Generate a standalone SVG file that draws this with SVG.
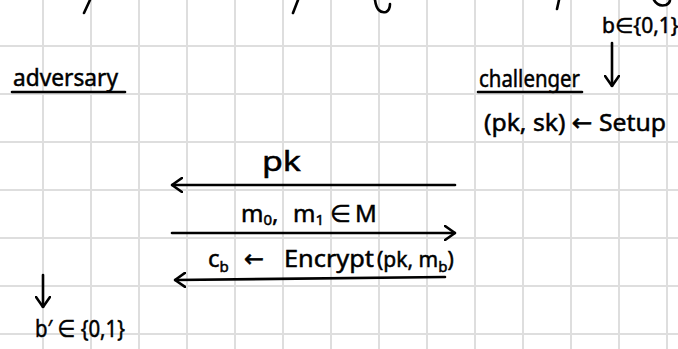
<svg xmlns="http://www.w3.org/2000/svg" width="678" height="349" viewBox="0 0 678 349">
<defs>
<style>
.grid line{stroke:#dedede;stroke-width:2}
.t{font-family:"Noto Sans","DejaVu Sans",sans-serif;font-size:24px;fill:#000;stroke:#000;stroke-width:0.5}
.s{font-size:15px}
.ln{stroke:#000;stroke-width:2.6;fill:none;stroke-linecap:round;stroke-linejoin:round}
</style>
<marker id="hd" viewBox="0 0 12 16" refX="11" refY="8" markerWidth="12" markerHeight="16" markerUnits="userSpaceOnUse" orient="auto">
<path d="M1,1 L11,8 L1,15" fill="none" stroke="#000" stroke-width="2.6" stroke-linecap="round" stroke-linejoin="round"/>
</marker>
</defs>
<rect width="678" height="349" fill="#fff"/>
<g class="grid">
<line x1="43" y1="0" x2="43" y2="349"/><line x1="91" y1="0" x2="91" y2="349"/><line x1="139" y1="0" x2="139" y2="349"/><line x1="187" y1="0" x2="187" y2="349"/><line x1="235" y1="0" x2="235" y2="349"/><line x1="283" y1="0" x2="283" y2="349"/><line x1="331" y1="0" x2="331" y2="349"/><line x1="379" y1="0" x2="379" y2="349"/><line x1="427" y1="0" x2="427" y2="349"/><line x1="475" y1="0" x2="475" y2="349"/><line x1="523" y1="0" x2="523" y2="349"/><line x1="571" y1="0" x2="571" y2="349"/><line x1="619" y1="0" x2="619" y2="349"/><line x1="667" y1="0" x2="667" y2="349"/>
<line x1="0" y1="46" x2="678" y2="46"/><line x1="0" y1="94" x2="678" y2="94"/><line x1="0" y1="142" x2="678" y2="142"/><line x1="0" y1="190" x2="678" y2="190"/><line x1="0" y1="238" x2="678" y2="238"/><line x1="0" y1="286" x2="678" y2="286"/><line x1="0" y1="334" x2="678" y2="334"/>
</g>
<g id="top-fragments" class="ln">
<path d="M90,0 L84,13"/>
<path d="M298,0 L293,13"/>
<path d="M375,0 Q377,14 386,12 Q390,10 390,4"/>
<path d="M559,0 L557,9"/>
<path d="M654,0 Q658,7 666,5 Q670,3 670,0"/>
</g>
<g id="adversary">
<text class="t" x="13" y="86" textLength="105" lengthAdjust="spacingAndGlyphs">adversary</text>
<line class="ln" x1="12" y1="92" x2="125" y2="92"/>
<g class="ln"><line x1="43" y1="275" x2="43" y2="307" marker-end="url(#hd)"/></g>
<text class="t" x="35" y="337" textLength="90" lengthAdjust="spacingAndGlyphs">b′ ∈ {0,1}</text>
</g>
<g id="challenger">
<text class="t" x="602" y="33" style="font-size:21px">b∈{0,1}</text>
<g class="ln"><line x1="612" y1="43" x2="612" y2="86" marker-end="url(#hd)"/></g>
<text class="t" x="479" y="87" textLength="101" lengthAdjust="spacingAndGlyphs">challenger</text>
<line class="ln" x1="478" y1="92" x2="582" y2="92"/>
<text class="t" x="484" y="131" textLength="182" lengthAdjust="spacingAndGlyphs">(pk, sk) ← Setup</text>
</g>
<g id="connectors" class="ln">
<line x1="455" y1="185" x2="172" y2="185" marker-end="url(#hd)"/>
<line x1="172" y1="233" x2="455" y2="233" marker-end="url(#hd)"/>
<line x1="445" y1="277" x2="175" y2="280" marker-end="url(#hd)"/>
</g>
<g id="labels">
<text class="t" x="262" y="171" style="font-size:28px" textLength="39" lengthAdjust="spacingAndGlyphs">pk</text>
<text class="t" x="241" y="222">m<tspan class="s" dy="3">0</tspan><tspan dy="-3">,</tspan><tspan x="293">m</tspan><tspan class="s" dy="3">1</tspan><tspan x="330" dy="-3">∈</tspan><tspan x="355">M</tspan></text>
<text class="t" x="208" y="267">c<tspan class="s" dy="5">b</tspan><tspan x="244" dy="-5">←</tspan></text>
<text class="t" x="284" y="267" textLength="90" lengthAdjust="spacingAndGlyphs">Encrypt</text>
<text class="t" x="377" y="267" style="font-size:21px">(pk, m<tspan class="s" dy="5">b</tspan><tspan dy="-5">)</tspan></text>
</g>
</svg>
